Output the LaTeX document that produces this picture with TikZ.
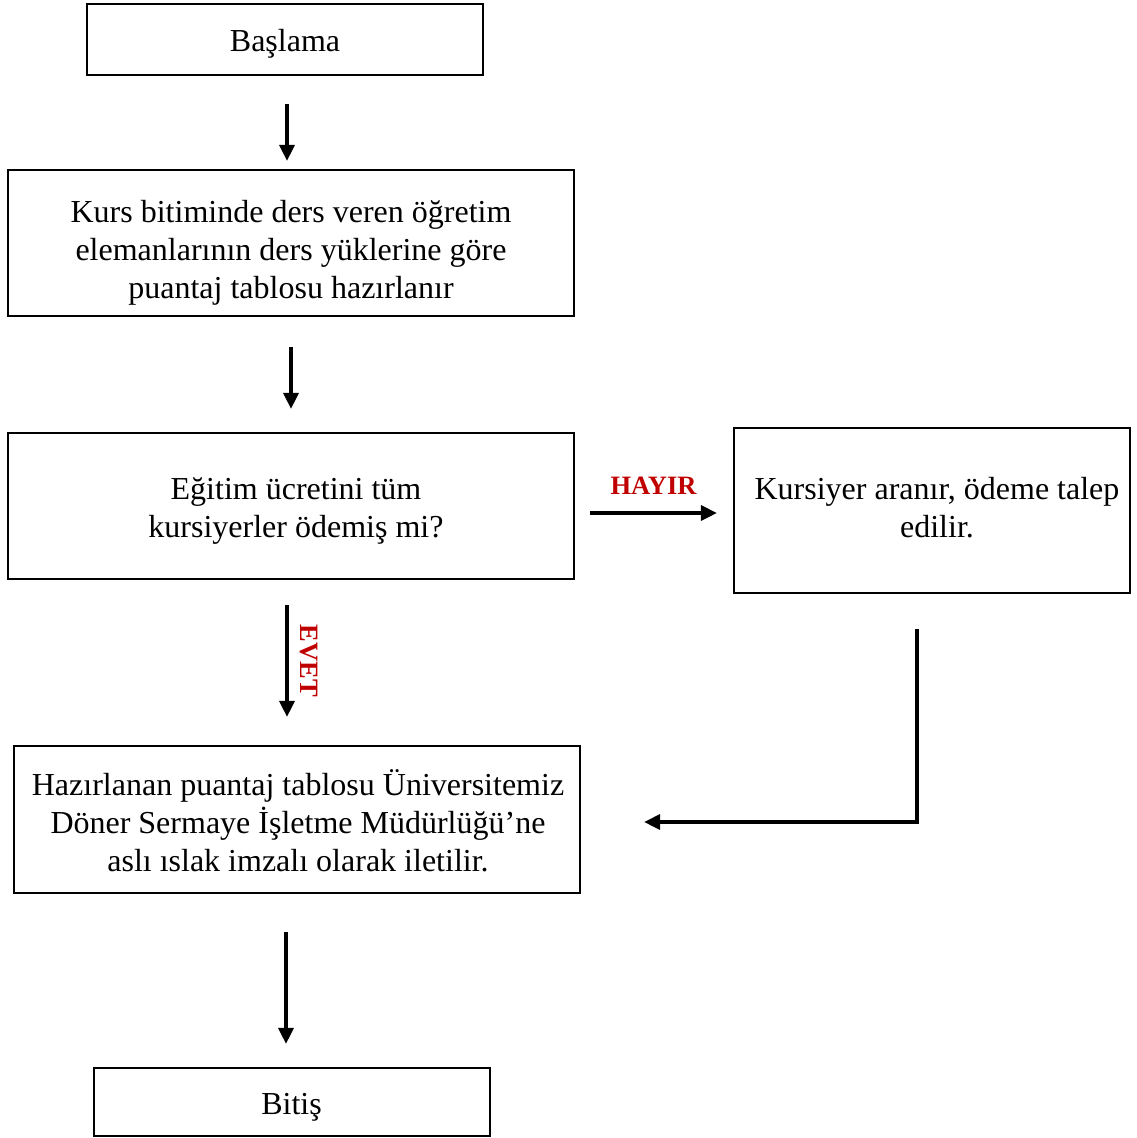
\documentclass[tikz,border=0pt]{standalone}
\usepackage{fontspec}
\setmainfont{Liberation Serif}
\usetikzlibrary{arrows.meta}
\definecolor{darkred}{HTML}{C00000}
\begin{document}
\begin{tikzpicture}[x=1pt,y=-1pt,
    box/.style={draw,line width=2.2pt,inner sep=0pt},
    txt/.style={align=center,inner sep=0pt,font=\fontsize{32}{38}\selectfont},
    arr/.style={line width=3.2pt,-{Triangle[length=16pt,width=15pt]}},
    lbl/.style={text=darkred,font=\fontsize{26.5}{30}\selectfont\bfseries}]
  \useasboundingbox (0,0) rectangle (1136,1138);
  % boxes
  \node[box,minimum width=396,minimum height=71] (b1) at (285,39.5) {};
  \node[box,minimum width=566,minimum height=146] (b2) at (291,243) {};
  \node[box,minimum width=566,minimum height=146] (b3) at (291,506) {};
  \node[box,minimum width=396,minimum height=165] (b4) at (932,510.5) {};
  \node[box,minimum width=566,minimum height=147] (b5) at (297,819.5) {};
  \node[box,minimum width=396,minimum height=68] (b6) at (292,1102) {};
  % texts
  \node[txt] (t1) at (285,44) {Başlama};
  \node[txt] (t2) at (291,253)
    {Kurs bitiminde ders veren öğretim\\ elemanlarının ders yüklerine göre\\ puantaj tablosu hazırlanır};
  \node[txt] (t3) at (296,511) {Eğitim ücretini tüm\\ kursiyerler ödemiş mi?};
  \node[txt] (t4) at (937,508) {Kursiyer aranır, ödeme talep\\ edilir.};
  \node[txt] (t5) at (298,821)
    {Hazırlanan puantaj tablosu Üniversitemiz\\ Döner Sermaye İşletme Müdürlüğü’ne\\ aslı ıslak imzalı olarak iletilir.};
  \node[txt] (t6) at (291.5,1107) {Bitiş};
  % arrows
  \draw[arr] ([shift={(2,28)}]b1.south) -- ([shift={(-4,-8)}]b2.north);
  \draw[arr] ([shift={(0,30)}]b2.south) -- ([shift={(0,-23)}]b3.north);
  \draw[arr] ([shift={(15,7)}]b3.east) -- ([shift={(-16,2.5)}]b4.west)
    node[lbl,midway,above=14pt] (hayir) {HAYIR};
  \draw[arr] ([shift={(-4,25)}]b3.south) -- ([shift={(-10,-28)}]b5.north)
    node[lbl,midway,right=8pt,rotate=-90,anchor=south] (evet) {EVET};
  \draw[arr] ([shift={(-15,35)}]b4.south) |- ([shift={(63,2.5)}]b5.east);
  \draw[arr] ([shift={(-11,38)}]b5.south) -- ([shift={(-6,-23)}]b6.north);
\end{tikzpicture}
\end{document}
